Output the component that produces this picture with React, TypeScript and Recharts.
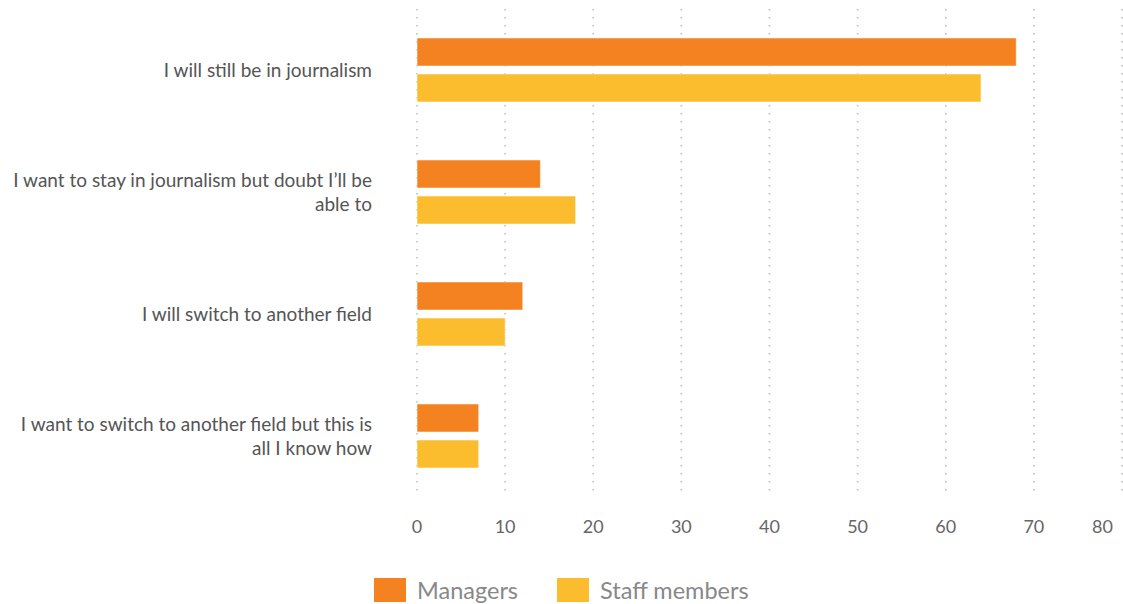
import React from "react";
import {
  BarChart,
  Bar,
  XAxis,
  YAxis,
  CartesianGrid,
} from "recharts";

const categories = [
  "I will still be in journalism",
  "I want to stay in journalism but doubt I\u2019ll be able to",
  "I will switch to another field",
  "I want to switch to another field but this is all I know how",
];
// tick labels, broken into lines as in the reference
const categoryLines = [
  ["I will still be in journalism"],
  ["I want to stay in journalism but doubt I\u2019ll be", "able to"],
  ["I will switch to another field"],
  ["I want to switch to another field but this is", "all I know how"],
];
const managers = [68, 14, 12, 7];
const staffMembers = [64, 18, 10, 7];
const xTicks = [0, 10, 20, 30, 40, 50, 60, 70, 80];

const data = categories.map((c, i) => ({
  category: c,
  managers: managers[i],
  staff: staffMembers[i],
}));

const FONT = "Lato, sans-serif";
const ORANGE = "#F58220";
const YELLOW = "#FBBC2D";

const YTick = (props: any) => {
  const { x, y, payload, index } = props;
  const lines = categoryLines[index] || [payload.value];
  const lh = 24;
  const first = y + 7 - ((lines.length - 1) * lh) / 2;
  return (
    <text
      x={x}
      y={first}
      textAnchor="end"
      fontSize={19}
      fontFamily={FONT}
      fill="#555"
    >
      {lines.map((l: string, i: number) => (
        <tspan key={i} x={x} y={first + i * lh}>
          {l}
        </tspan>
      ))}
    </text>
  );
};

const XTick = (props: any) => {
  const { x, y, payload } = props;
  const last = payload.value === 80;
  return (
    <text
      x={last ? x - 2 : x}
      y={y + 28}
      textAnchor={last ? "end" : "middle"}
      fontSize={18}
      fontFamily={FONT}
      fill="#666"
    >
      {payload.value}
    </text>
  );
};

export default function App() {
  return (
    <div style={{ position: "absolute", left: 0, top: 0, width: 1123, height: 604 }}>
      <BarChart
        width={1123}
        height={604}
        data={data}
        layout="vertical"
        margin={{ top: 9, right: 1, bottom: 0, left: 0 }}
        barSize={28}
        barGap={8}
      >
        <CartesianGrid
          horizontal={false}
          stroke="#bbb"
          strokeWidth={1.5}
          strokeDasharray="1.5 6.5"
        />
        <XAxis
          type="number"
          domain={[0, 80]}
          ticks={xTicks}
          height={107}
          axisLine={false}
          tickLine={false}
          tick={<XTick />}
        />
        <YAxis
          type="category"
          dataKey="category"
          width={417}
          axisLine={false}
          tickLine={false}
          tickSize={0}
          tickMargin={45}
          tick={<YTick />}
        />
        <Bar
          dataKey="managers"
          name="Managers"
          fill={ORANGE}
          stroke="#fff"
          strokeOpacity={0.5}
          isAnimationActive={false}
        />
        <Bar
          dataKey="staff"
          name="Staff members"
          fill={YELLOW}
          stroke="#fff"
          strokeOpacity={0.5}
          isAnimationActive={false}
        />
      </BarChart>
      <div
        style={{
          position: "absolute",
          top: 578,
          left: 374,
          display: "flex",
          alignItems: "center",
          fontFamily: FONT,
          fontSize: 23.5,
          color: "#888",
          lineHeight: "24px",
        }}
      >
        <span style={{ width: 32, height: 24, background: ORANGE, display: "inline-block" }} />
        <span style={{ marginLeft: 11, width: 140 }}>Managers</span>
        <span style={{ width: 32, height: 24, background: YELLOW, display: "inline-block" }} />
        <span style={{ marginLeft: 11 }}>Staff members</span>
      </div>
    </div>
  );
}
